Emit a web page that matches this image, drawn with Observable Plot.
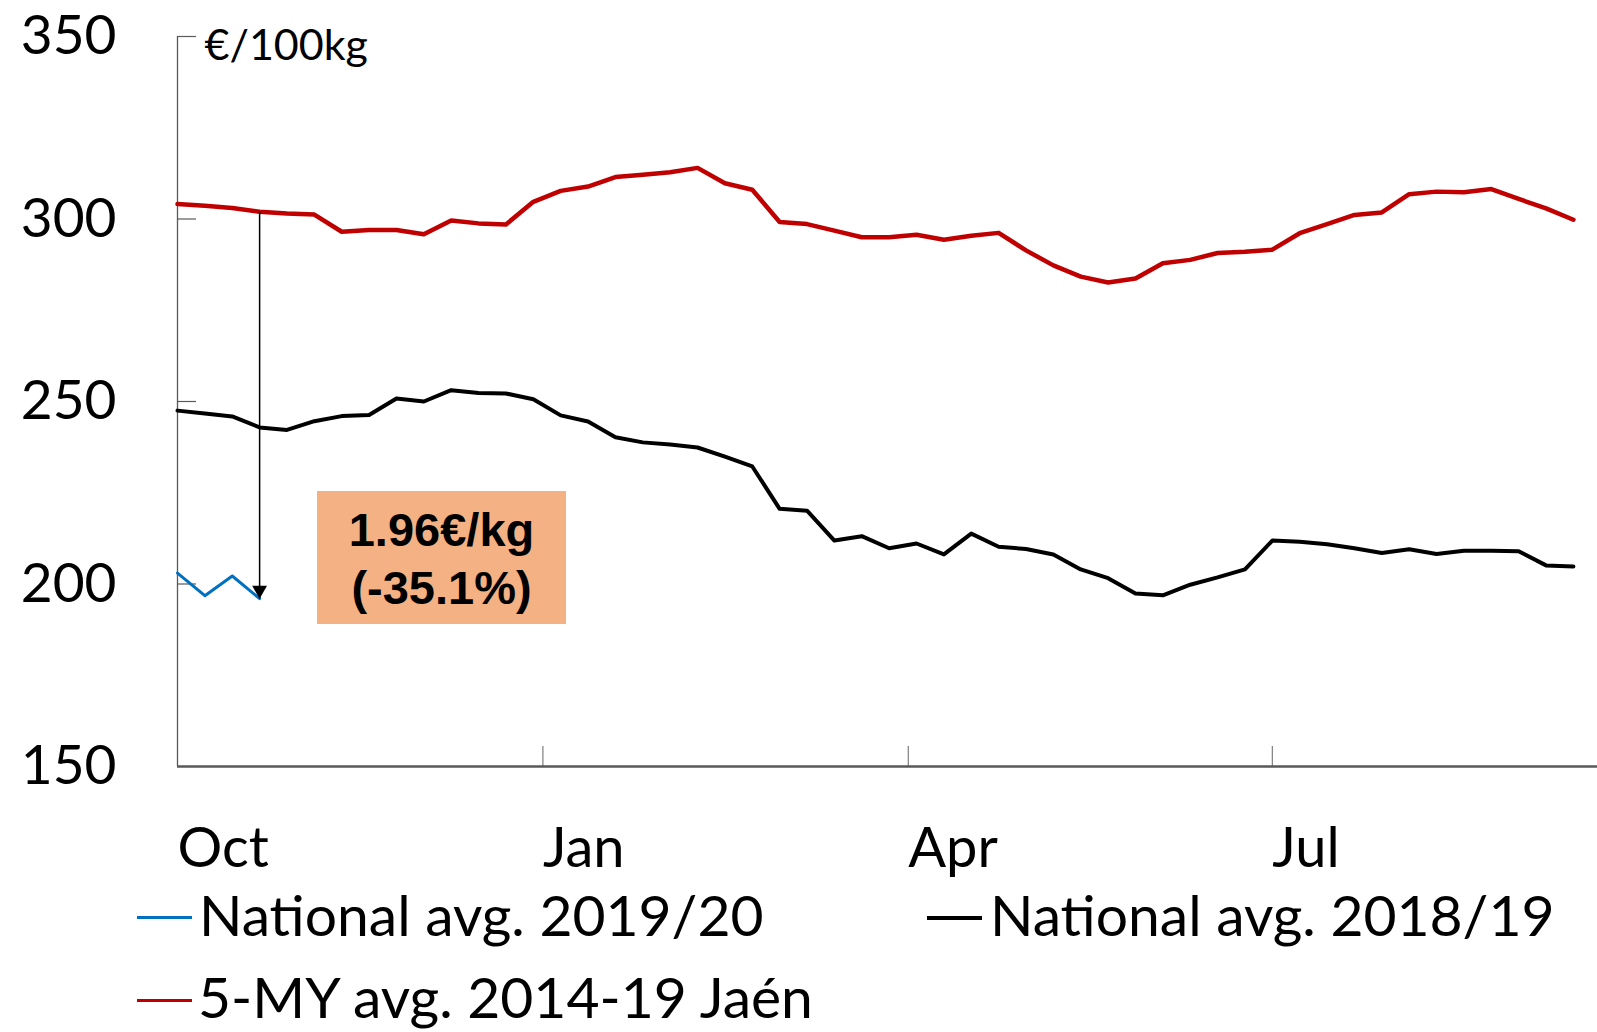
<!DOCTYPE html>
<html><head><meta charset="utf-8">
<script src="https://cdn.jsdelivr.net/npm/d3@7"></script>
<script src="https://cdn.jsdelivr.net/npm/@observablehq/plot@0.6"></script>
<style>
html,body{margin:0;padding:0;background:#fff;}
#wrap{position:relative;width:1597px;height:1032px;overflow:hidden;font-family:Lato,"Open Sans",sans-serif;color:#000;}
#chart{position:absolute;left:0;top:0;}
.box{position:absolute;left:317px;top:491px;width:249px;height:133px;background:#F4B183;font-family:"Liberation Sans",Arial,sans-serif;font-weight:bold;font-size:47px;line-height:58px;text-align:center;padding-top:10px;box-sizing:border-box;}
.leg{position:absolute;font-size:57px;line-height:58px;white-space:nowrap;}
.sw{position:absolute;width:55px;height:3px;}
</style></head><body><div id="wrap"><div id="chart"></div></div>
<script>
const yTicks = [150, 200, 250, 300, 350];
const xTickPos = [0, 13.35, 26.7, 40];
const xTickLabels = ["Oct", "Jan", "Apr", "Jul"];
const unitLabel = "€/100kg";

// weekly prices, €/100kg, marketing year starting October
const jaen5y = [304.1, 303.6, 303.0, 302.0, 301.5, 301.2, 296.5, 297.0, 297.0, 295.8,
  299.6, 298.8, 298.5, 304.7, 307.7, 308.9, 311.5, 312.1, 312.8, 314.0,
  309.8, 308.0, 299.2, 298.6, 296.8, 295.0, 295.0, 295.7, 294.3, 295.4,
  296.2, 291.4, 287.3, 284.2, 282.6, 283.7, 287.9, 288.8, 290.7, 291.0,
  291.6, 296.1, 298.6, 301.1, 301.8, 306.8, 307.5, 307.3, 308.2, 305.5,
  302.9, 299.8];
const nat1819 = [247.5, 246.7, 245.9, 242.9, 242.2, 244.6, 246.0, 246.3, 250.8, 250.0,
  253.1, 252.3, 252.2, 250.6, 246.2, 244.5, 240.2, 238.8, 238.2, 237.4,
  234.9, 232.2, 220.6, 220.1, 211.9, 213.1, 209.8, 211.1, 208.1, 213.8,
  210.2, 209.6, 208.1, 204.0, 201.6, 197.4, 196.9, 199.8, 201.8, 204.0,
  211.9, 211.6, 210.9, 209.8, 208.5, 209.5, 208.2, 209.1, 209.1, 209.0,
  205.1, 204.8];
const nat1920 = [203.0, 196.8, 202.2, 196.0];

const seriesNames = ["National avg. 2019/20", "National avg. 2018/19", "5-MY avg. 2014-19 Jaén"];
const seriesColors = ["#0070C0", "#000000", "#C00000"];
const annotationLines = ["1.96€/kg", "(-35.1%)"];
const arrowWeek = 3;

const tickLabel = new Map(xTickPos.map((p, i) => [p, xTickLabels[i]]));

const chart = Plot.plot({
  width: 1597, height: 880,
  marginLeft: 177, marginRight: 0, marginTop: 36, marginBottom: 114,
  style: {fontFamily: "Lato, sans-serif", background: "transparent", color: "#000", overflow: "visible"},
  x: {domain: [0, 51.88]},
  y: {domain: [150, 350]},
  marks: [
    Plot.ruleX(xTickPos.slice(1), {x: d => d, stroke: "#7f7f7f", strokeWidth: 1.2, insetTop: 710}),
    Plot.ruleY(yTicks.slice(1), {y: d => d, stroke: "#595959", strokeWidth: 1.2, insetRight: 1401}),
    Plot.ruleX([0], {stroke: "#595959", strokeWidth: 1.3}),
    Plot.ruleY([150], {stroke: "#595959", strokeWidth: 2.5}),
    Plot.axisY({ticks: yTicks, tickSize: 0, tickPadding: 61, fontSize: 55, label: null}),
    Plot.axisX({ticks: xTickPos, tickSize: 0, tickPadding: 61, fontSize: 56, textAnchor: "start",
      tickFormat: d => tickLabel.get(d), label: null}),
    Plot.text([unitLabel], {frameAnchor: "top-left", lineAnchor: "top", text: d => d, dx: 27, dy: -7, fontSize: 43, textAnchor: "start"}),
    Plot.line(jaen5y, {x: (d, i) => i, y: d => d, stroke: seriesColors[2], strokeWidth: 4.5}),
    Plot.line(nat1819, {x: (d, i) => i, y: d => d, stroke: seriesColors[1], strokeWidth: 4}),
    Plot.line(nat1920, {x: (d, i) => i, y: d => d, stroke: seriesColors[0], strokeWidth: 3}),
    Plot.link([arrowWeek], {x1: d => d, x2: d => d, y1: d => jaen5y[d], y2: d => nat1920[d], stroke: "#000", strokeWidth: 1.5}),
    Plot.dot([arrowWeek], {x: d => d, y: d => nat1920[d], symbol: "triangle", r: 5.5, fill: "#000", stroke: "none", rotate: 180, dy: -8.5})
  ]
});
document.getElementById("chart").appendChild(chart);

const wrap = document.getElementById("wrap");
const box = document.createElement("div");
box.className = "box";
box.innerHTML = annotationLines.map(t => `<div>${t}</div>`).join("");
wrap.appendChild(box);

const legendPos = [
  {sw: [137, 916], tx: [199, 885]},
  {sw: [927, 916], tx: [990, 885]},
  {sw: [137, 999], tx: [198, 967]}
];
seriesNames.forEach((name, i) => {
  const sw = document.createElement("div");
  sw.className = "sw";
  sw.style.left = legendPos[i].sw[0] + "px";
  sw.style.top = legendPos[i].sw[1] + "px";
  sw.style.background = seriesColors[i];
  if (i === 1) sw.style.height = "4px";
  wrap.appendChild(sw);
  const tx = document.createElement("div");
  tx.className = "leg";
  tx.style.left = legendPos[i].tx[0] + "px";
  tx.style.top = legendPos[i].tx[1] + "px";
  tx.textContent = name;
  wrap.appendChild(tx);
});
</script>
</body></html>
